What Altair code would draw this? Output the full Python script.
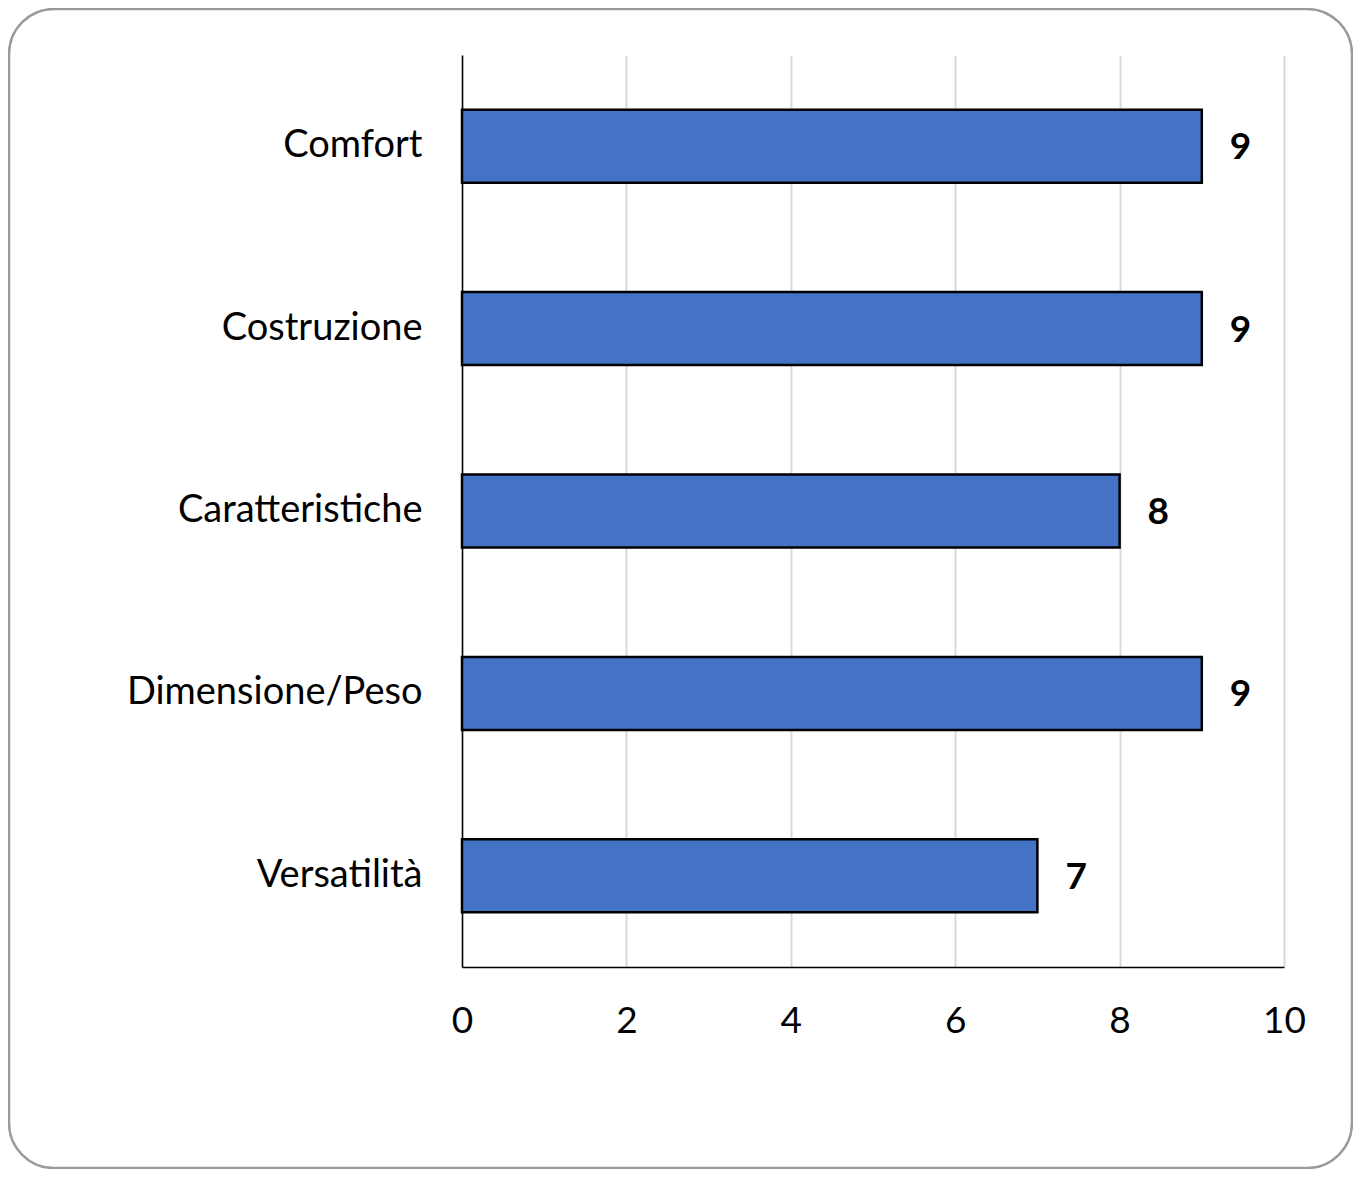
import altair as alt
import pandas as pd

categories = ["Comfort", "Costruzione", "Caratteristiche", "Dimensione/Peso", "Versatilità"]
values = [9, 9, 8, 9, 7]

df = pd.DataFrame({"cat": categories, "val": values})
FONT = "Lato"

y_enc = alt.Y("cat:N", sort=categories, title=None,
              scale=alt.Scale(paddingInner=0.6, paddingOuter=0.3),
              axis=alt.Axis(ticks=False, labelFontSize=38, labelFont=FONT, labelColor="#000000",
                            labelLimit=0, labelPadding=40, domainColor="#000000", domainWidth=1.5,
                            grid=False))
x_enc = alt.X("val:Q", title=None, scale=alt.Scale(domain=[0, 10]),
              axis=alt.Axis(values=[0, 2, 4, 6, 8, 10], format="d", ticks=False, labelFontSize=37,
                            labelFont=FONT, labelFlush=False, labelAlign="center",
                            labelColor="#000000", labelPadding=36, domainColor="#000000", domainWidth=1.5,
                            grid=True, gridColor="#d9d9d9", gridWidth=2))

bars = alt.Chart(df).mark_bar(color="#4472C4", stroke="#000000", strokeWidth=2.5).encode(x=x_enc, y=y_enc)

labels = alt.Chart(df).mark_text(align="left", baseline="middle", dx=28, dy=2, fontSize=37,
                                 fontWeight="bold", font=FONT, color="#000000").encode(
    x="val:Q", y=alt.Y("cat:N", sort=categories), text="val:Q")

border = alt.Chart(pd.DataFrame({"a": [0]})).mark_rect(
    fill=None, stroke="#9a9a9a", strokeWidth=2.5, cornerRadius=45, clip=False).encode(
    x=alt.value(-453), x2=alt.value(890), y=alt.value(-46), y2=alt.value(1113))

chart = alt.layer(border, bars, labels).properties(
    width=822, height=912,
    autosize=alt.AutoSizeParams(type="none"),
    padding={"left": 454, "top": 47, "right": 69, "bottom": 202},
).configure(background="#ffffff").configure_view(stroke=None, strokeWidth=0)

chart.save("out.html", embed_options={"renderer": "svg", "actions": False})
